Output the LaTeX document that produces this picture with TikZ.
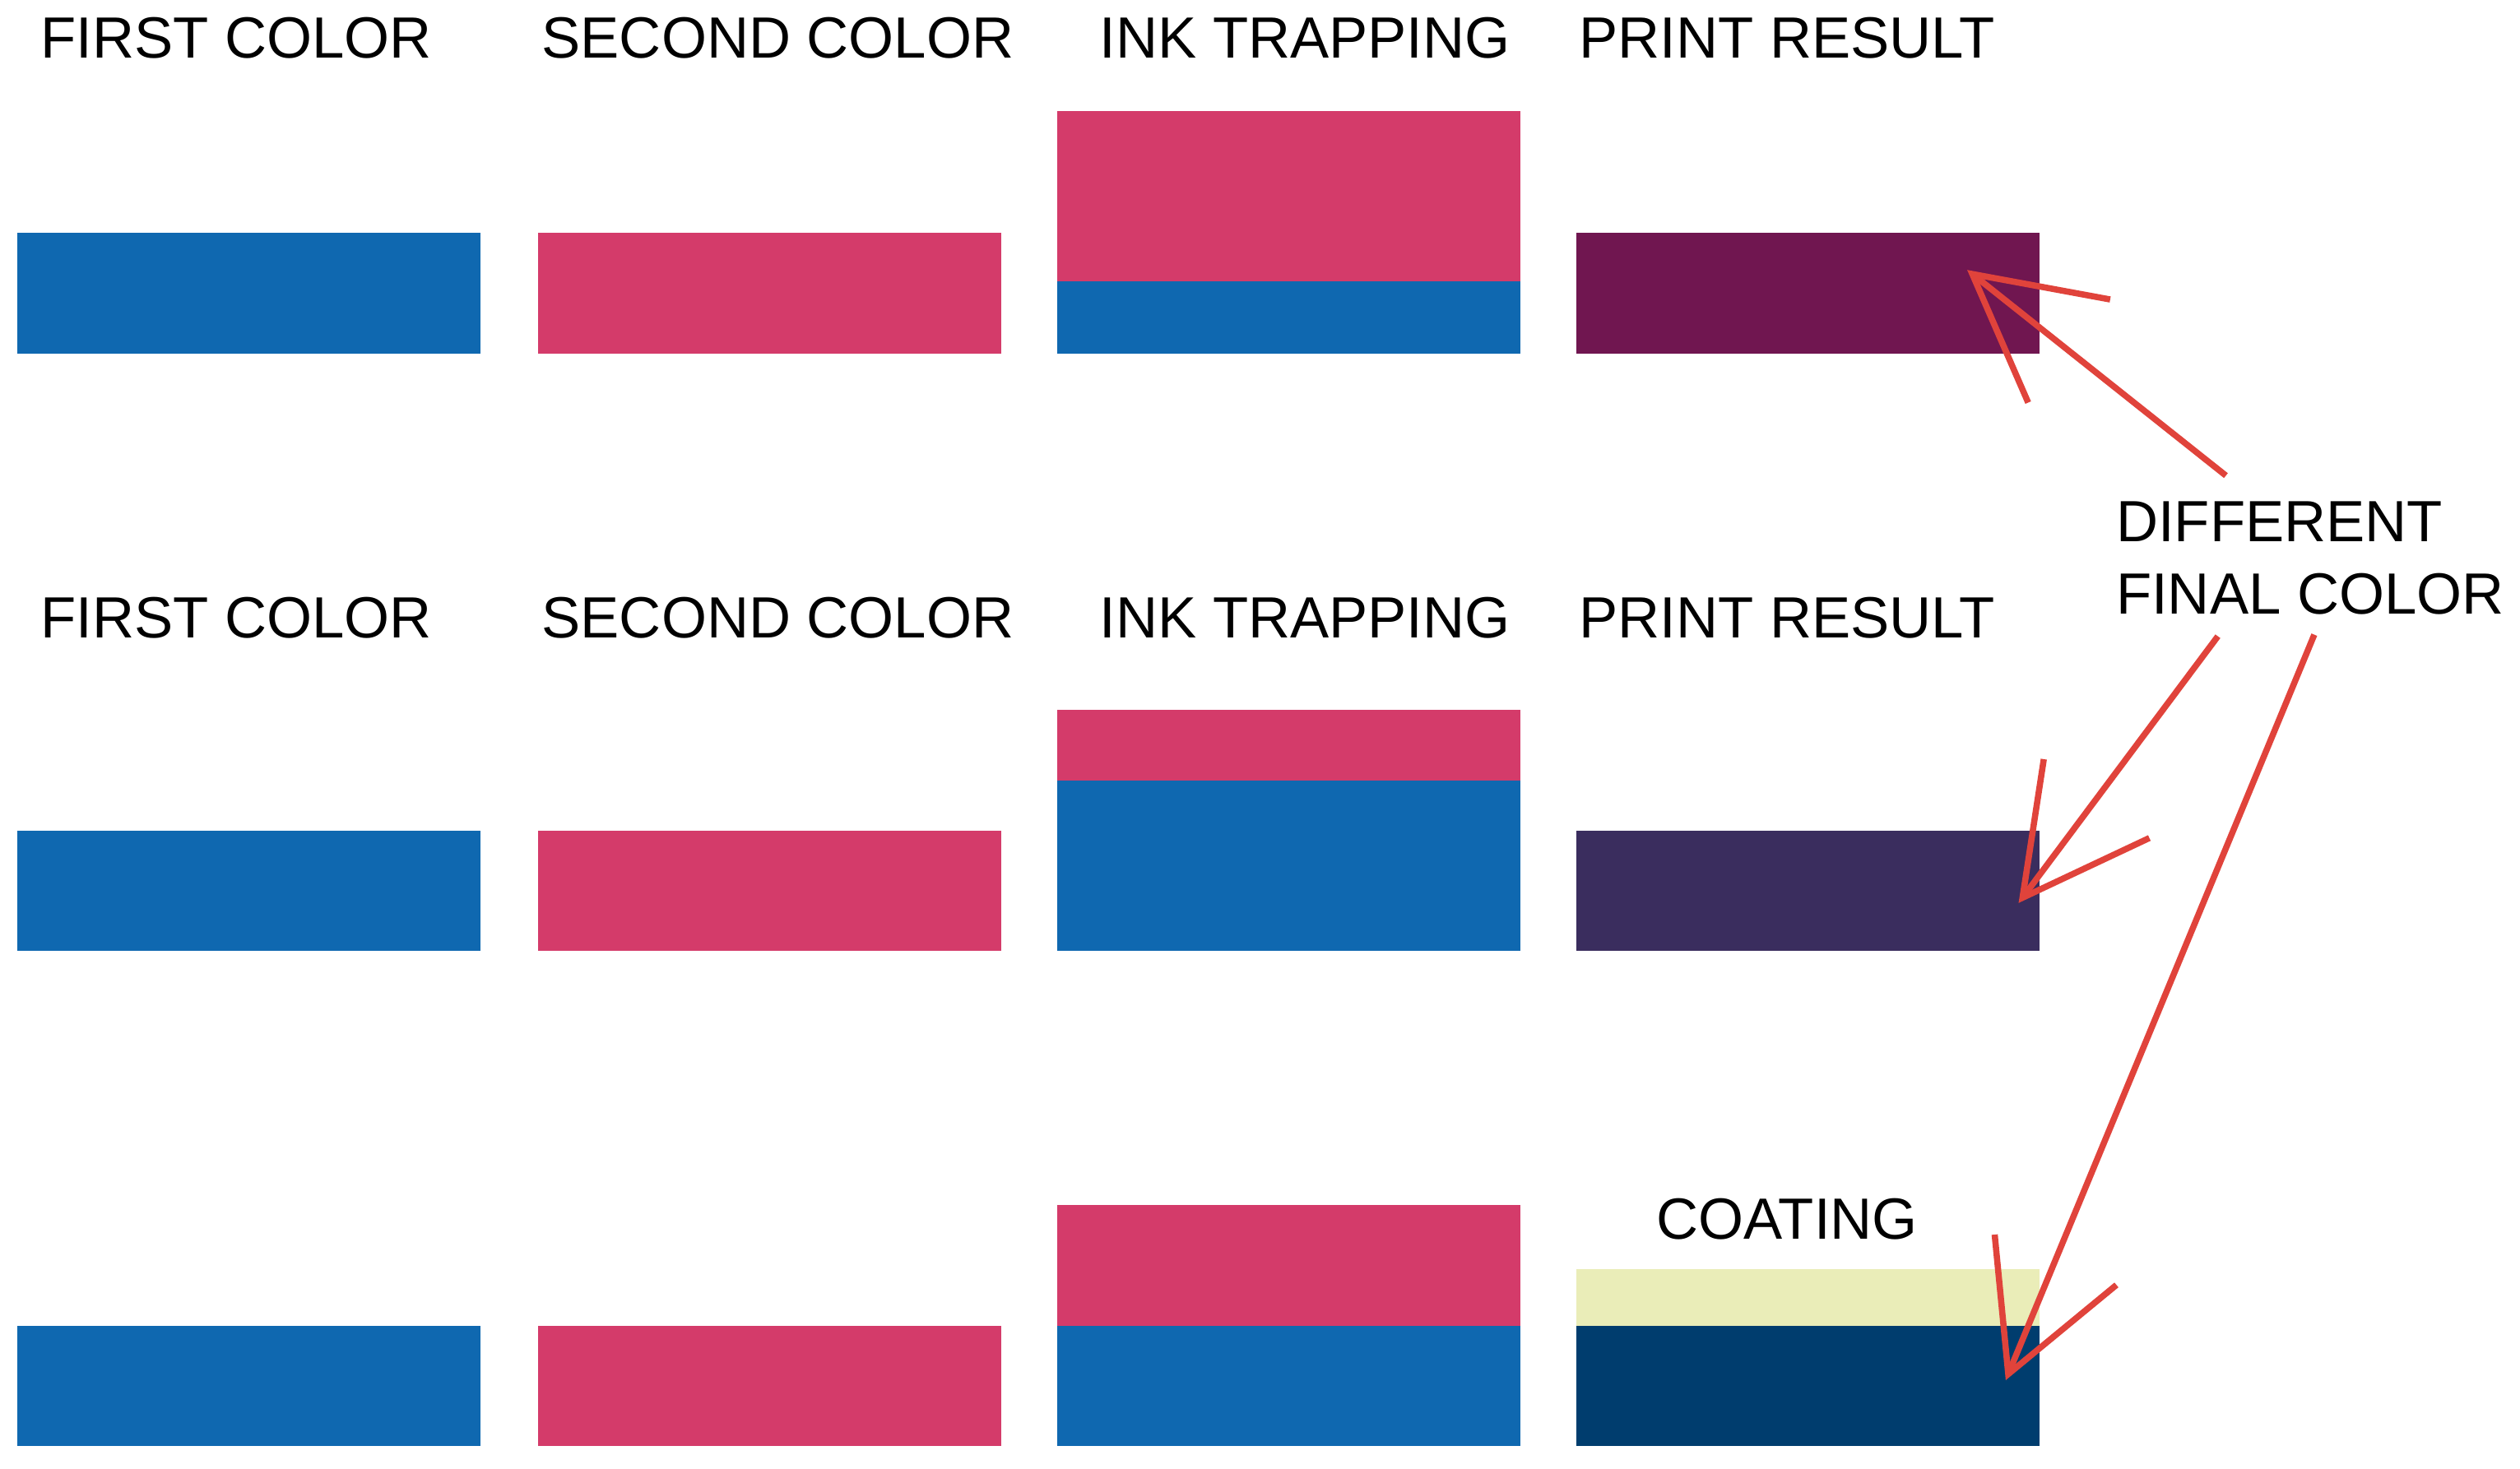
\documentclass[tikz,border=0pt]{standalone}
\usepackage{fontspec}
\setmainfont{Liberation Sans}
\usetikzlibrary{arrows.meta}

\definecolor{cyanink}{HTML}{0F68B0}
\definecolor{magentaink}{HTML}{D43B6A}
\definecolor{resultone}{HTML}{701650}
\definecolor{resulttwo}{HTML}{3A2D5E}
\definecolor{resultthree}{HTML}{003D6E}
\definecolor{coatink}{HTML}{EAEDB8}
\definecolor{arrowred}{HTML}{E0433B}

\begin{document}
\begin{tikzpicture}[x=0.1mm, y=-0.1mm,
  every node/.style={font=\fontsize{10.3}{12}\selectfont},
  caption/.style={anchor=base, inner sep=0},
  bar/.style={anchor=north west, inner sep=0, outer sep=0, minimum width=28.8mm, minimum height=#1},
  bar/.default=7.5mm,
  pointer/.style={draw=arrowred, line width=1.1pt, line join=round,
    -{Straight Barb[length=7.7mm, width=8.2mm, line width=1.1pt]}}]
\useasboundingbox (0, 0) rectangle (1568, 914);

% top row
\node (first1)[caption] at (147, 36) {FIRST COLOR};
\node (second1)[caption] at (484, 36) {SECOND COLOR};
\node (trap1)[caption] at (812, 36) {INK TRAPPING};
\node (print1)[caption] at (1112, 36) {PRINT RESULT};
\node (blue1)[bar, fill=cyanink] at (11, 145) {};
\node (pink1)[bar, fill=magentaink] at (335, 145) {};
\node (trappink1)[bar=10.6mm, fill=magentaink] at (658, 69) {};
\node (trapblue1)[bar=4.5mm, fill=cyanink] at (658, 175) {};
\node (result1)[bar, fill=resultone] at (981, 145) {};

% middle row
\node (first2)[caption] at (147, 397) {FIRST COLOR};
\node (second2)[caption] at (484, 397) {SECOND COLOR};
\node (trap2)[caption] at (812, 397) {INK TRAPPING};
\node (print2)[caption] at (1112, 397) {PRINT RESULT};
\node (blue2)[bar, fill=cyanink] at (11, 517) {};
\node (pink2)[bar, fill=magentaink] at (335, 517) {};
\node (trappink2)[bar=4.4mm, fill=magentaink] at (658, 442) {};
\node (trapblue2)[bar=10.6mm, fill=cyanink] at (658, 486) {};
\node (result2)[bar, fill=resulttwo] at (981, 517) {};

% bottom row
\node (blue3)[bar, fill=cyanink] at (11, 825) {};
\node (pink3)[bar, fill=magentaink] at (335, 825) {};
\node (trappink3)[bar, fill=magentaink] at (658, 750) {};
\node (trapblue3)[bar, fill=cyanink] at (658, 825) {};
\node (coat)[bar=3.5mm, fill=coatink] at (981, 790) {};
\node (result3)[bar, fill=resultthree] at (981, 825) {};
\node (coatlabel)[caption] at (1112, 771) {COATING};

% callout
\node (diff)[anchor=base west, inner sep=0] at (1316, 337) {DIFFERENT};
\node (final)[anchor=base west, inner sep=0] at (1316, 382) {FINAL COLOR};
\coordinate (tail1) at (1385, 296);
\coordinate (tail2) at (1380, 396);
\coordinate (tail3) at (1440, 395);
\coordinate (tip1) at (1224, 168);
\coordinate (tip2) at (1256, 562);
\coordinate (tip3) at (1248, 859);
\draw[pointer] (tail1) -- (tip1);
\draw[pointer] (tail2) -- (tip2);
\draw[pointer] (tail3) -- (tip3);
\end{tikzpicture}
\end{document}
